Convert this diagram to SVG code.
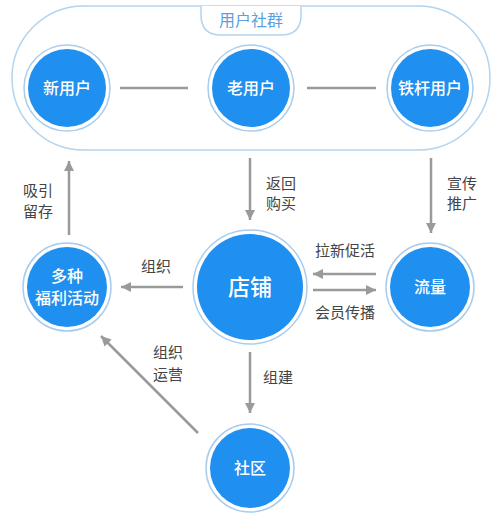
<svg xmlns="http://www.w3.org/2000/svg" width="499" height="514" viewBox="0 0 499 514">
<defs>
<style>
.ring{fill:#fff;stroke:#a9cdee;stroke-width:1.5}
.core{fill:#1f8ff0}
.nt{fill:#fff;font-family:"Noto Sans CJK SC","Noto Sans",sans-serif;font-size:16px;font-weight:500;text-anchor:middle}
.lb{fill:#444;font-family:"Noto Sans CJK SC","Noto Sans",sans-serif;font-size:15px;text-anchor:middle}
.ln{stroke:#9a9a9a;stroke-width:2.5;fill:none}
.ar{stroke:#9a9a9a;stroke-width:2.5;fill:none;marker-end:url(#ah)}
</style>
<marker id="ah" markerUnits="userSpaceOnUse" markerWidth="12" markerHeight="12" viewBox="0 0 12 12" refX="10" refY="6" orient="auto">
<path d="M0,1 L10,6 L0,11 Z" fill="#9a9a9a"/>
</marker>
</defs>
<rect width="499" height="514" fill="#fff"/>
<g id="community">
<rect x="12" y="6" width="478" height="144" rx="72" fill="none" stroke="#b3d3ee" stroke-width="1.5"/>
<path d="M201,6 L201,15 Q201,35 221,35 L281,35 Q301,35 301,15 L301,6" fill="#fff" stroke="#b3d3ee" stroke-width="1.5"/>
<text x="251" y="26" fill="#5d9fdc" font-family="'Noto Sans CJK SC','Noto Sans',sans-serif" font-size="16" text-anchor="middle">用户社群</text>
</g>
<g id="connectors">
<line class="ln" x1="120" y1="88" x2="188" y2="88"/>
<line class="ln" x1="307" y1="88" x2="376" y2="88"/>
<line class="ar" x1="69" y1="235" x2="69" y2="161"/>
<line class="ar" x1="250" y1="158" x2="250" y2="220"/>
<line class="ar" x1="431" y1="158" x2="431" y2="233"/>
<line class="ar" x1="183" y1="287" x2="121" y2="287"/>
<line class="ar" x1="376" y1="274" x2="313" y2="274"/>
<line class="ar" x1="313" y1="290" x2="376" y2="290"/>
<line class="ar" x1="250" y1="352" x2="250" y2="413"/>
<line class="ar" x1="198" y1="433" x2="101" y2="336"/>
<text class="lb" x="38" y="196">吸引</text>
<text class="lb" x="38" y="217">留存</text>
<text class="lb" x="281" y="189">返回</text>
<text class="lb" x="281" y="209">购买</text>
<text class="lb" x="462" y="189">宣传</text>
<text class="lb" x="462" y="209">推广</text>
<text class="lb" x="156" y="272">组织</text>
<text class="lb" x="345" y="256">拉新促活</text>
<text class="lb" x="345" y="318">会员传播</text>
<text class="lb" x="278" y="383">组建</text>
<text class="lb" x="168" y="358">组织</text>
<text class="lb" x="168" y="380">运营</text>
</g>
<g id="n-new">
<circle class="ring" cx="67" cy="88" r="43"/>
<circle class="core" cx="67" cy="88" r="39"/>
<text class="nt" x="67" y="94">新用户</text>
</g>
<g id="n-old">
<circle class="ring" cx="251" cy="88" r="43"/>
<circle class="core" cx="251" cy="88" r="39"/>
<text class="nt" x="251" y="94">老用户</text>
</g>
<g id="n-loyal">
<circle class="ring" cx="430" cy="88" r="43"/>
<circle class="core" cx="430" cy="88" r="39"/>
<text class="nt" x="430" y="94">铁杆用户</text>
</g>
<g id="n-activity">
<circle class="ring" cx="67" cy="287" r="44"/>
<circle class="core" cx="67" cy="287" r="40"/>
<text class="nt" x="67" y="282">多种</text>
<text class="nt" x="67" y="304">福利活动</text>
</g>
<g id="n-store">
<circle class="ring" cx="250" cy="287" r="57"/>
<circle class="core" cx="250" cy="287" r="53"/>
<text class="nt" x="250" y="295" style="font-size:22px">店铺</text>
</g>
<g id="n-traffic">
<circle class="ring" cx="430" cy="287" r="44"/>
<circle class="core" cx="430" cy="287" r="40"/>
<text class="nt" x="430" y="293">流量</text>
</g>
<g id="n-community">
<circle class="ring" cx="250" cy="468" r="44"/>
<circle class="core" cx="250" cy="468" r="40"/>
<text class="nt" x="250" y="474">社区</text>
</g>
</svg>
